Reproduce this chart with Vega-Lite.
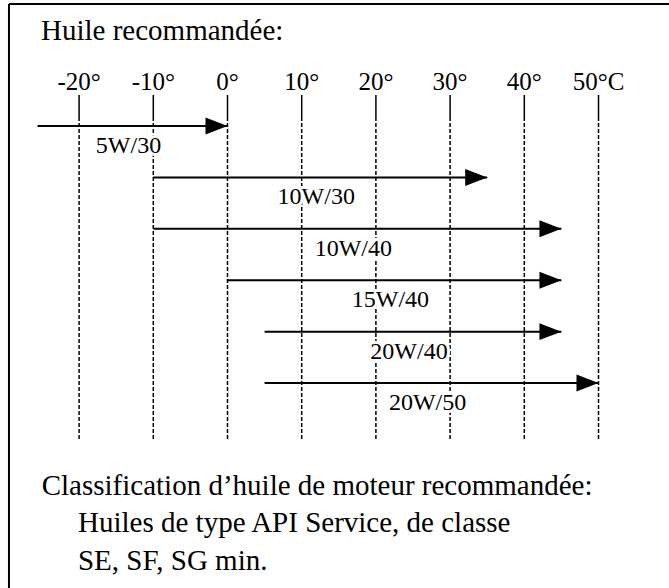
{
  "$schema": "https://vega.github.io/schema/vega-lite/v6.json",
  "width": 669,
  "height": 588,
  "autosize": "none",
  "padding": 0,
  "background": "white",
  "config": {"view": {"stroke": null}, "font": "Liberation Serif, Times New Roman, serif", "text": {"font": "Liberation Serif, Times New Roman, serif"}},
  "datasets": {
    "temps": [
      {"t": -20, "label": "-20°"},
      {"t": -10, "label": "-10°"},
      {"t": 0, "label": "0°"},
      {"t": 10, "label": "10°"},
      {"t": 20, "label": "20°"},
      {"t": 30, "label": "30°"},
      {"t": 40, "label": "40°"},
      {"t": 50, "label": "50°C"}
    ],
    "oils": [
      {"oil": "5W/30", "row": 0, "start": -25.6, "end": 0},
      {"oil": "10W/30", "row": 1, "start": -10, "end": 35},
      {"oil": "10W/40", "row": 2, "start": -10, "end": 45},
      {"oil": "15W/40", "row": 3, "start": 0, "end": 45},
      {"oil": "20W/40", "row": 4, "start": 5, "end": 45},
      {"oil": "20W/50", "row": 5, "start": 5, "end": 50}
    ],
    "notes": [
      {"title": "Huile recommandée:", "l1": "Classification d’huile de moteur recommandée:", "l2": "Huiles de type API Service, de classe", "l3": "SE, SF, SG min."}
    ]
  },
  "layer": [
    {
      "data": {"name": "temps"},
      "mark": {"type": "rule", "strokeDash": [4, 2], "strokeWidth": 1.5, "color": "black"},
      "encoding": {
        "x": {"field": "t", "type": "quantitative", "scale": {"domain": [-30.66, 59.5], "nice": false, "zero": false}, "axis": null},
        "y": {"datum": -0.175, "type": "quantitative", "scale": {"domain": [-2.451, 8.987], "nice": false, "zero": false, "reverse": true}, "axis": null},
        "y2": {"datum": 6.108}
      }
    },
    {
      "data": {"name": "temps"},
      "mark": {"type": "rule", "strokeWidth": 1.5, "color": "black"},
      "encoding": {
        "x": {"field": "t", "type": "quantitative", "scale": {"domain": [-30.66, 59.5], "nice": false, "zero": false}, "axis": null},
        "y": {"datum": -0.603, "type": "quantitative", "scale": {"domain": [-2.451, 8.987], "nice": false, "zero": false, "reverse": true}, "axis": null},
        "y2": {"datum": -0.175}
      }
    },
    {
      "data": {"name": "temps"},
      "mark": {"type": "text", "font": "Liberation Serif, Times New Roman, serif", "fontSize": 25, "align": "center", "baseline": "alphabetic", "color": "black"},
      "encoding": {
        "x": {"field": "t", "type": "quantitative", "scale": {"domain": [-30.66, 59.5], "nice": false, "zero": false}, "axis": null},
        "y": {"datum": -0.7, "type": "quantitative", "scale": {"domain": [-2.451, 8.987], "nice": false, "zero": false, "reverse": true}, "axis": null},
        "text": {"field": "label"}
      }
    },
    {
      "data": {"name": "oils"},
      "mark": {"type": "rule", "strokeWidth": 2, "color": "black"},
      "encoding": {
        "x": {"field": "start", "type": "quantitative", "scale": {"domain": [-30.66, 59.5], "nice": false, "zero": false}, "axis": null},
        "x2": {"field": "end"},
        "y": {"field": "row", "type": "quantitative", "scale": {"domain": [-2.451, 8.987], "nice": false, "zero": false, "reverse": true}, "axis": null}
      }
    },
    {
      "data": {"name": "oils"},
      "mark": {"type": "point", "shape": "M0,0L-2,-0.77L-2,0.77Z", "size": 484, "filled": true, "color": "black", "opacity": 1},
      "encoding": {
        "x": {"field": "end", "type": "quantitative", "scale": {"domain": [-30.66, 59.5], "nice": false, "zero": false}, "axis": null},
        "y": {"field": "row", "type": "quantitative", "scale": {"domain": [-2.451, 8.987], "nice": false, "zero": false, "reverse": true}, "axis": null}
      }
    },
    {
      "data": {"name": "oils"},
      "transform": [{"calculate": "(datum.start + datum.end) / 2", "as": "mid"}],
      "mark": {"type": "text", "font": "Liberation Serif, Times New Roman, serif", "fontSize": 24, "align": "center", "baseline": "alphabetic", "dy": 27, "dx": -4, "fill": "white", "stroke": "white", "strokeWidth": 6, "strokeJoin": "round"},
      "encoding": {
        "x": {"field": "mid", "type": "quantitative", "scale": {"domain": [-30.66, 59.5], "nice": false, "zero": false}, "axis": null},
        "y": {"field": "row", "type": "quantitative", "scale": {"domain": [-2.451, 8.987], "nice": false, "zero": false, "reverse": true}, "axis": null},
        "text": {"field": "oil"}
      }
    },
    {
      "data": {"name": "oils"},
      "transform": [{"calculate": "(datum.start + datum.end) / 2", "as": "mid"}],
      "mark": {"type": "text", "font": "Liberation Serif, Times New Roman, serif", "fontSize": 24, "align": "center", "baseline": "alphabetic", "dy": 27, "dx": -4, "color": "black"},
      "encoding": {
        "x": {"field": "mid", "type": "quantitative", "scale": {"domain": [-30.66, 59.5], "nice": false, "zero": false}, "axis": null},
        "y": {"field": "row", "type": "quantitative", "scale": {"domain": [-2.451, 8.987], "nice": false, "zero": false, "reverse": true}, "axis": null},
        "text": {"field": "oil"}
      }
    },
    {
      "data": {"name": "notes"},
      "mark": {"type": "text", "font": "Liberation Serif, Times New Roman, serif", "fontSize": 29, "align": "left", "baseline": "alphabetic", "color": "black"},
      "encoding": {
        "x": {"datum": -25.13, "type": "quantitative", "scale": {"domain": [-30.66, 59.5], "nice": false, "zero": false}, "axis": null},
        "y": {"datum": -1.673, "type": "quantitative", "scale": {"domain": [-2.451, 8.987], "nice": false, "zero": false, "reverse": true}, "axis": null},
        "text": {"field": "title"}
      }
    },
    {
      "data": {"name": "notes"},
      "mark": {"type": "text", "font": "Liberation Serif, Times New Roman, serif", "fontSize": 29, "align": "left", "baseline": "alphabetic", "color": "black"},
      "encoding": {
        "x": {"datum": -25.04, "type": "quantitative", "scale": {"domain": [-30.66, 59.5], "nice": false, "zero": false}, "axis": null},
        "y": {"datum": 7.178, "type": "quantitative", "scale": {"domain": [-2.451, 8.987], "nice": false, "zero": false, "reverse": true}, "axis": null},
        "text": {"field": "l1"}
      }
    },
    {
      "data": {"name": "notes"},
      "mark": {"type": "text", "font": "Liberation Serif, Times New Roman, serif", "fontSize": 29, "align": "left", "baseline": "alphabetic", "color": "black"},
      "encoding": {
        "x": {"datum": -20.15, "type": "quantitative", "scale": {"domain": [-30.66, 59.5], "nice": false, "zero": false}, "axis": null},
        "y": {"datum": 7.891, "type": "quantitative", "scale": {"domain": [-2.451, 8.987], "nice": false, "zero": false, "reverse": true}, "axis": null},
        "text": {"field": "l2"}
      }
    },
    {
      "data": {"name": "notes"},
      "mark": {"type": "text", "font": "Liberation Serif, Times New Roman, serif", "fontSize": 29, "align": "left", "baseline": "alphabetic", "color": "black"},
      "encoding": {
        "x": {"datum": -20.15, "type": "quantitative", "scale": {"domain": [-30.66, 59.5], "nice": false, "zero": false}, "axis": null},
        "y": {"datum": 8.636, "type": "quantitative", "scale": {"domain": [-2.451, 8.987], "nice": false, "zero": false, "reverse": true}, "axis": null},
        "text": {"field": "l3"}
      }
    },
    {
      "data": {"name": "notes"},
      "mark": {"type": "rule", "strokeWidth": 2, "color": "black"},
      "encoding": {
        "x": {"datum": -29.45, "type": "quantitative", "scale": {"domain": [-30.66, 59.5], "nice": false, "zero": false}, "axis": null},
        "y": {"datum": -2.373, "type": "quantitative", "scale": {"domain": [-2.451, 8.987], "nice": false, "zero": false, "reverse": true}, "axis": null},
        "y2": {"datum": 9.2}
      }
    },
    {
      "data": {"name": "notes"},
      "mark": {"type": "rule", "strokeWidth": 2, "color": "black"},
      "encoding": {
        "x": {"datum": -29.45, "type": "quantitative", "scale": {"domain": [-30.66, 59.5], "nice": false, "zero": false}, "axis": null},
        "x2": {"datum": 60.5},
        "y": {"datum": -2.373, "type": "quantitative", "scale": {"domain": [-2.451, 8.987], "nice": false, "zero": false, "reverse": true}, "axis": null}
      }
    }
  ]
}
